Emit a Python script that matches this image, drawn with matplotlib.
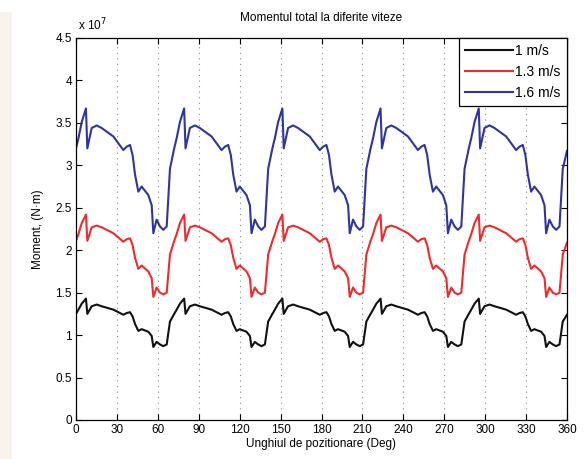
import matplotlib
matplotlib.use("Agg")
import matplotlib.pyplot as plt
from matplotlib.patches import Rectangle

# Angle of position (deg)
angles = [
    0, 1.8, 4.2, 7.3, 8.3, 11.5, 15.2, 18.8, 27.4, 34.7, 37.2, 39.6, 41.5, 43.3, 45.7, 48.1, 53.0, 55.5, 56.7, 59.1, 61.6, 64.0, 66.5, 68.9,
    72, 73.8, 76.2, 79.3, 80.3, 83.5, 87.2, 90.8, 99.4, 106.7, 109.2, 111.6, 113.5, 115.3, 117.7, 120.1, 125.0, 127.5, 128.7, 131.1, 133.6, 136.0, 138.5, 140.9,
    144, 145.8, 148.2, 151.3, 152.3, 155.5, 159.2, 162.8, 171.4, 178.7, 181.2, 183.6, 185.5, 187.3, 189.7, 192.1, 197.0, 199.5, 200.7, 203.1, 205.6, 208.0, 210.5, 212.9,
    216, 217.8, 220.2, 223.3, 224.3, 227.5, 231.2, 234.8, 243.4, 250.7, 253.2, 255.6, 257.5, 259.3, 261.7, 264.1, 269.0, 271.5, 272.7, 275.1, 277.6, 280.0, 282.5, 284.9,
    288, 289.8, 292.2, 295.3, 296.3, 299.5, 303.2, 306.8, 315.4, 322.7, 325.2, 327.6, 329.5, 331.3, 333.7, 336.1, 341.0, 343.5, 344.7, 347.1, 349.6, 352.0, 354.5, 356.9,
    360,
]

# Torque values in units of 1e7 N*m
moment_1ms = [
    1.25, 1.30, 1.37, 1.43, 1.25, 1.34, 1.36, 1.34, 1.30, 1.24, 1.26, 1.27, 1.22, 1.13, 1.05, 1.07, 1.04, 0.99, 0.86, 0.92, 0.89, 0.87, 0.89, 1.16,
    1.25, 1.30, 1.37, 1.43, 1.25, 1.34, 1.36, 1.34, 1.30, 1.24, 1.26, 1.27, 1.22, 1.13, 1.05, 1.07, 1.04, 0.99, 0.86, 0.92, 0.89, 0.87, 0.89, 1.16,
    1.25, 1.30, 1.37, 1.43, 1.25, 1.34, 1.36, 1.34, 1.30, 1.24, 1.26, 1.27, 1.22, 1.13, 1.05, 1.07, 1.04, 0.99, 0.86, 0.92, 0.89, 0.87, 0.89, 1.16,
    1.25, 1.30, 1.37, 1.43, 1.25, 1.34, 1.36, 1.34, 1.30, 1.24, 1.26, 1.27, 1.22, 1.13, 1.05, 1.07, 1.04, 0.99, 0.86, 0.92, 0.89, 0.87, 0.89, 1.16,
    1.25, 1.30, 1.37, 1.43, 1.25, 1.34, 1.36, 1.34, 1.30, 1.24, 1.26, 1.27, 1.22, 1.13, 1.05, 1.07, 1.04, 0.99, 0.86, 0.92, 0.89, 0.87, 0.89, 1.16,
    1.24,
]
moment_13ms = [
    2.11, 2.19, 2.32, 2.42, 2.11, 2.27, 2.29, 2.27, 2.20, 2.10, 2.13, 2.14, 2.06, 1.91, 1.78, 1.82, 1.75, 1.67, 1.45, 1.56, 1.50, 1.48, 1.50, 1.95,
    2.11, 2.19, 2.32, 2.42, 2.11, 2.27, 2.29, 2.27, 2.20, 2.10, 2.13, 2.14, 2.06, 1.91, 1.78, 1.82, 1.75, 1.67, 1.45, 1.56, 1.50, 1.48, 1.50, 1.95,
    2.11, 2.19, 2.32, 2.42, 2.11, 2.27, 2.29, 2.27, 2.20, 2.10, 2.13, 2.14, 2.06, 1.91, 1.78, 1.82, 1.75, 1.67, 1.45, 1.56, 1.50, 1.48, 1.50, 1.95,
    2.11, 2.19, 2.32, 2.42, 2.11, 2.27, 2.29, 2.27, 2.20, 2.10, 2.13, 2.14, 2.06, 1.91, 1.78, 1.82, 1.75, 1.67, 1.45, 1.56, 1.50, 1.48, 1.50, 1.95,
    2.11, 2.19, 2.32, 2.42, 2.11, 2.27, 2.29, 2.27, 2.20, 2.10, 2.13, 2.14, 2.06, 1.91, 1.78, 1.82, 1.75, 1.67, 1.45, 1.56, 1.50, 1.48, 1.50, 1.95,
    2.09,
]
moment_16ms = [
    3.20, 3.32, 3.51, 3.67, 3.20, 3.44, 3.47, 3.44, 3.34, 3.18, 3.22, 3.24, 3.12, 2.89, 2.69, 2.75, 2.65, 2.53, 2.20, 2.36, 2.28, 2.24, 2.28, 2.96,
    3.20, 3.32, 3.51, 3.67, 3.20, 3.44, 3.47, 3.44, 3.34, 3.18, 3.22, 3.24, 3.12, 2.89, 2.69, 2.75, 2.65, 2.53, 2.20, 2.36, 2.28, 2.24, 2.28, 2.96,
    3.20, 3.32, 3.51, 3.67, 3.20, 3.44, 3.47, 3.44, 3.34, 3.18, 3.22, 3.24, 3.12, 2.89, 2.69, 2.75, 2.65, 2.53, 2.20, 2.36, 2.28, 2.24, 2.28, 2.96,
    3.20, 3.32, 3.51, 3.67, 3.20, 3.44, 3.47, 3.44, 3.34, 3.18, 3.22, 3.24, 3.12, 2.89, 2.69, 2.75, 2.65, 2.53, 2.20, 2.36, 2.28, 2.24, 2.28, 2.96,
    3.20, 3.32, 3.51, 3.67, 3.20, 3.44, 3.47, 3.44, 3.34, 3.18, 3.22, 3.24, 3.12, 2.89, 2.69, 2.75, 2.65, 2.53, 2.20, 2.36, 2.28, 2.24, 2.28, 2.96,
    3.17,
]

series_labels = ["1 m/s", "1.3 m/s", "1.6 m/s"]
series_colors = ["#111111", "#ee2c2c", "#2e34a0"]

x_ticks = [0, 30, 60, 90, 120, 150, 180, 210, 240, 270, 300, 330, 360]
y_ticks = [0, 0.5, 1, 1.5, 2, 2.5, 3, 3.5, 4, 4.5]
y_tick_labels = ["0", "0.5", "1", "1.5", "2", "2.5", "3", "3.5", "4", "4.5"]

plt.rcParams["font.family"] = ["Liberation Sans", "DejaVu Sans"]

fig = plt.figure(figsize=(5.84, 4.59), dpi=100)
fig.patches.append(Rectangle((0, 0), 12 / 584, 447 / 459, transform=fig.transFigure,
                             facecolor="#f8f3ec", edgecolor="none", zorder=-1))
ax = fig.add_axes([76 / 584, 1 - 420 / 459, (567 - 76) / 584, (420 - 38) / 459])

for vals, lab, col in zip([moment_1ms, moment_13ms, moment_16ms], series_labels, series_colors):
    ax.plot(angles, vals, color=col, lw=1.5, label=lab)

ax.set_xlim(0, 360)
ax.set_ylim(0, 4.5)
ax.set_xticks(x_ticks)
ax.set_yticks(y_ticks)
ax.set_yticklabels(y_tick_labels)
ax.tick_params(direction="in", length=4, width=0.8, top=True, right=True, labelsize=8.5, pad=3)
for s in ax.spines.values():
    s.set_linewidth(0.9)

ax.xaxis.grid(True, linestyle=(0, (1, 4)), color="#888888", lw=0.8)
ax.yaxis.grid(False)

ax.set_title("Momentul total la diferite viteze", fontsize=8.5, pad=12)
ax.set_xlabel("Unghiul de pozitionare (Deg)", fontsize=8.5, labelpad=1)
ax.set_ylabel("Moment, (N\u00b7m)", fontsize=8.5, labelpad=8)
ax.text(0.005, 1.012, r"x 10$^{7}$", transform=ax.transAxes, fontsize=8.5, ha="left", va="bottom")

leg = ax.legend(loc="upper right", borderaxespad=0, fancybox=False, framealpha=1,
                edgecolor="black", fontsize=10, handlelength=3.4, handletextpad=0.2,
                labelspacing=0.5, borderpad=0.45)
leg.get_frame().set_linewidth(0.9)

fig.savefig("out.png", dpi=100)
